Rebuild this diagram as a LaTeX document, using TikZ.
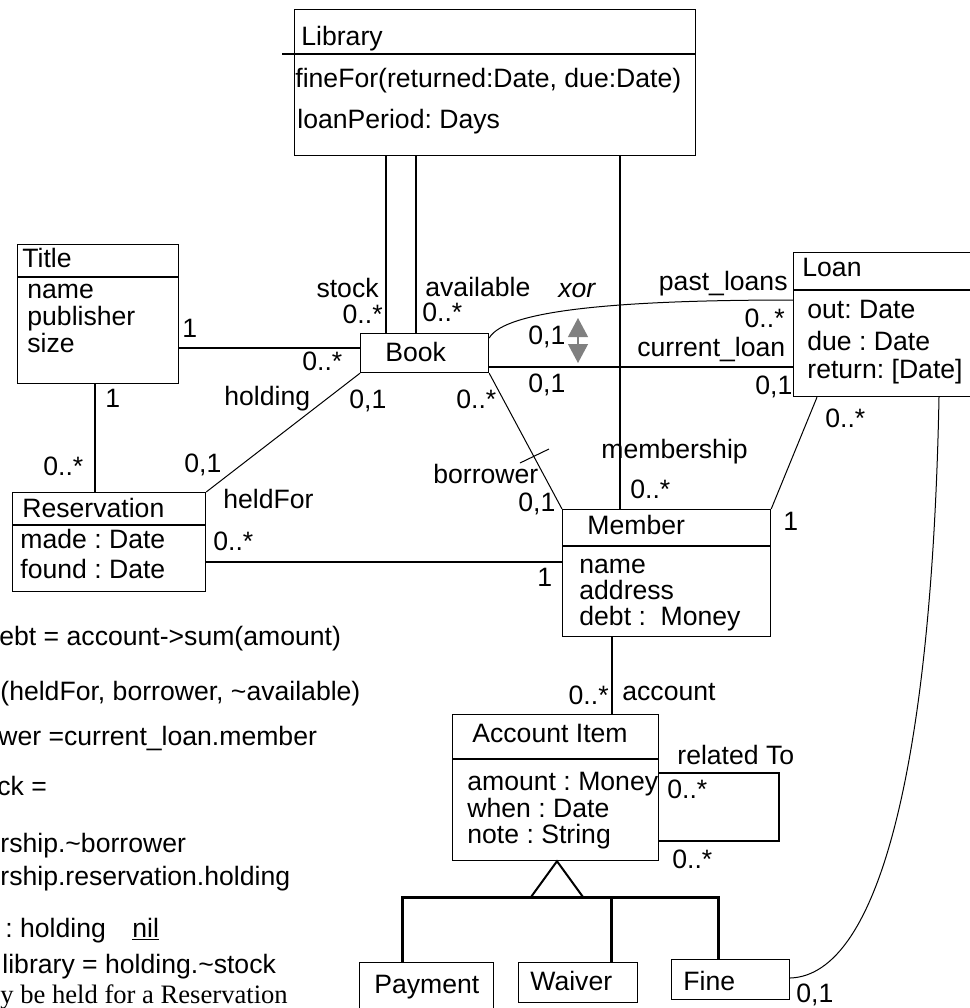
\documentclass[tikz,border=0pt]{standalone}
\usepackage{fontspec}
\setmainfont{Liberation Sans}
\newfontfamily\serifx{Liberation Serif}
\usetikzlibrary{arrows.meta}
\frenchspacing
\begin{document}
\begin{tikzpicture}[x=0.5pt,y=-0.5pt,
  box/.style={draw, line width=0.6pt, inner sep=0, anchor=north west},
  t/.style={inner sep=0, anchor=base west, font=\fontsize{13.3}{15}\selectfont\frenchspacing},
  tr/.style={t, anchor=base east},
  assoc/.style={line width=0.8pt},
  thin/.style={line width=0.5pt},
  divl/.style={line width=1pt},
  gen/.style={line width=1.5pt}]
\useasboundingbox (0,0) rectangle (970,1008);

% ---------- class boxes ----------
\node[box, minimum width=200.5pt, minimum height=73pt] (lib) at (294,9) {};
\node[box, minimum width=80.5pt, minimum height=69.5pt] (title) at (17,244) {};
\node[box, minimum width=64pt, minimum height=19.5pt] (book) at (360,333) {};
\node[box, minimum width=96.5pt, minimum height=49.5pt] (res) at (12,492) {};
\node[box, minimum width=104pt, minimum height=63.5pt] (member) at (562,509) {};
\node[box, minimum width=89.5pt, minimum height=72pt] (loan) at (793,252) {};
\node[box, minimum width=103pt, minimum height=73pt] (acct) at (452,714) {};
\node[box, minimum width=67pt, minimum height=25pt] (payment) at (359,962) {};
\node[box, minimum width=59.5pt, minimum height=20pt] (waiver) at (518,962) {};
\node[box, minimum width=59pt, minimum height=20pt] (fine) at (671,959) {};

% dividers
\draw[divl] (282,54) -- (lib.east |- 0,54);
\draw[divl] (title.west |- 0,277) -- (title.east |- 0,277);
\draw[divl] (res.west |- 0,525) -- (res.east |- 0,525);
\draw[divl] (member.west |- 0,546) -- (member.east |- 0,546);
\draw[divl] (loan.west |- 0,290) -- (loan.east |- 0,290);
\draw[divl] (acct.west |- 0,759) -- (acct.east |- 0,759);

% ---------- box texts ----------
\node[t] (libn) at (301,45) {Library};
\node[t] (liba1) at (295,87) {fineFor(returned:Date, due:Date)};
\node[t] (liba2) at (297,128) {loanPeriod: Days};

\node[t] (titn) at (22,267) {Title};
\node[t] (tita1) at (27,298) {name};
\node[t] (tita2) at (27,325) {publisher};
\node[t] (tita3) at (27,352) {size};

\node[t] (bookn) at (385,361) {Book};

\node[t] (resn) at (22,517) {Reservation};
\node[t] (resa1) at (20,548) {made : Date};
\node[t] (resa2) at (20,578) {found : Date};

\node[t] (memn) at (587,534) {Member};
\node[t] (mema1) at (579,573) {name};
\node[t] (mema2) at (579,599) {address};
\node[t] (mema3) at (579,625) {debt :\ \ Money};

\node[t] (loann) at (802,276) {Loan};
\node[t] (loana1) at (807,318) {out: Date};
\node[t] (loana2) at (807,350) {due : Date};
\node[t] (loana3) at (807,378) {return: [Date]};

\node[t] (acctn) at (472,742) {Account Item};
\node[t] (accta1) at (467,790) {amount : Money};
\node[t] (accta2) at (467,817) {when : Date};
\node[t] (accta3) at (467,843) {note : String};

\node[t] (payn) at (374,993) {Payment};
\node[t] (waivn) at (530,990) {Waiver};
\node[t] (finen) at (683,990) {Fine};

% ---------- associations ----------
\draw[assoc] (386,0 |- lib.south) -- (386,0 |- book.north);
\draw[assoc] (416,0 |- lib.south) -- (416,0 |- book.north);
\draw[assoc] (620,0 |- lib.south) -- (620,0 |- member.north);
\draw[assoc] (title.east |- 0,348) -- (book.west |- 0,348);
\draw[assoc] (95,0 |- title.south) -- (95,0 |- res.north);
\draw[thin] (book.south west) -- (res.north east);
\draw[assoc] (res.east |- 0,562) -- (member.west |- 0,562);
\draw[assoc] (book.east |- 0,367) -- (loan.west |- 0,367);
\draw[thin] (book.east |- 0,338) .. controls (505,310) and (620,300) .. (loan.west |- 0,300);
\draw[thin] (book.south east) -- (member.north west);
\draw[thin] (520,463) -- (549,449);
\draw[thin] (817,0 |- loan.south) -- (member.north east);
\draw[thin] (939,0 |- loan.south) .. controls (932,760) and (880,975) .. (fine.east |- 0,978);
\draw[assoc] (612,0 |- member.south) -- (612,0 |- acct.north);
\draw[divl] (acct.east |- 0,773) -| (779,841) -- (acct.east |- 0,841);

% xor arrow
\draw[gray, line width=0.6pt, {Triangle[width=10pt,length=9.5pt]}-{Triangle[width=10pt,length=9.5pt]}] (578,318) -- (578,363);

% generalization
\draw[divl] (557,0 |- acct.south) -- (531,897) -- (583,897) -- cycle;
\draw[gen] (402,0 |- payment.north) -- (402,897) -- (718,897) -- (718,0 |- fine.north);
\draw[gen] (611,897) -- (611,0 |- waiver.north);

% ---------- association labels ----------
\node[tr] (l1) at (379,297) {stock};
\node[tr] (l2) at (383,323) {0..*};
\node[t] (l3) at (425,296) {available};
\node[t] (l4) at (422,321) {0..*};
\node[t, font=\fontsize{13.3}{15}\selectfont\itshape] (l5) at (558,297) {xor};
\node[tr] (l6) at (788,290) {past\_loans};
\node[tr] (l7) at (785,327) {0..*};
\node[t] (l8) at (528,344) {0,1};
\node[t] (l9) at (637,356) {current\_loan};
\node[t] (l10) at (528,392) {0,1};
\node[t] (l11) at (755,394) {0,1};
\node[t] (l12) at (349,408) {0,1};
\node[t] (l13) at (456,408) {0..*};
\node[t] (l14) at (601,458) {membership};
\node[t] (l15) at (630,498) {0..*};
\node[t] (l16) at (433,483) {borrower};
\node[t] (l17) at (518,511) {0,1};
\node[t] (l18) at (783,530) {1};
\node[t] (l19) at (182,337) {1};
\node[t] (l20) at (302,370) {0..*};
\node[t] (l21) at (224,405) {holding};
\node[t] (l22) at (105,407) {1};
\node[t] (l23) at (43,475) {0..*};
\node[t] (l24) at (184,472) {0,1};
\node[t] (l25) at (223,508) {heldFor};
\node[t] (l26) at (213,550) {0..*};
\node[t] (l27) at (537,586) {1};
\node[t] (l28) at (825,427) {0..*};
\node[tr] (l29) at (609,704) {0..*};
\node[t] (l30) at (622,700) {account};
\node[t] (l31) at (677,764) {related To};
\node[t] (l32) at (667,798) {0..*};
\node[t] (l33) at (672,868) {0..*};
\node[t] (l34) at (796,1002) {0,1};

% ---------- constraint notes ----------
\node[t] (n1) at (-1,645) {ebt = account->sum(amount)};
\node[t] (n2) at (0,700) {(heldFor, borrower, \textasciitilde available)};
\node[t] (n3) at (-2,745) {wer =current\_loan.member};
\node[t] (n4) at (-3,795) {ck =};
\node[t] (n5) at (0,852) {rship.\textasciitilde borrower};
\node[t] (n6) at (0,885) {rship.reservation.holding};
\node[t] (n7) at (5,937) {: holding};
\node[t] (n8) at (132,937) {\underline{nil}};
\node[t] (n9) at (2,973) {library = holding.\textasciitilde stock};
\node[t, font=\fontsize{13.3}{15}\selectfont\serifx] (n10) at (0,1003) {y be held for a Reservation};
\end{tikzpicture}
\end{document}
